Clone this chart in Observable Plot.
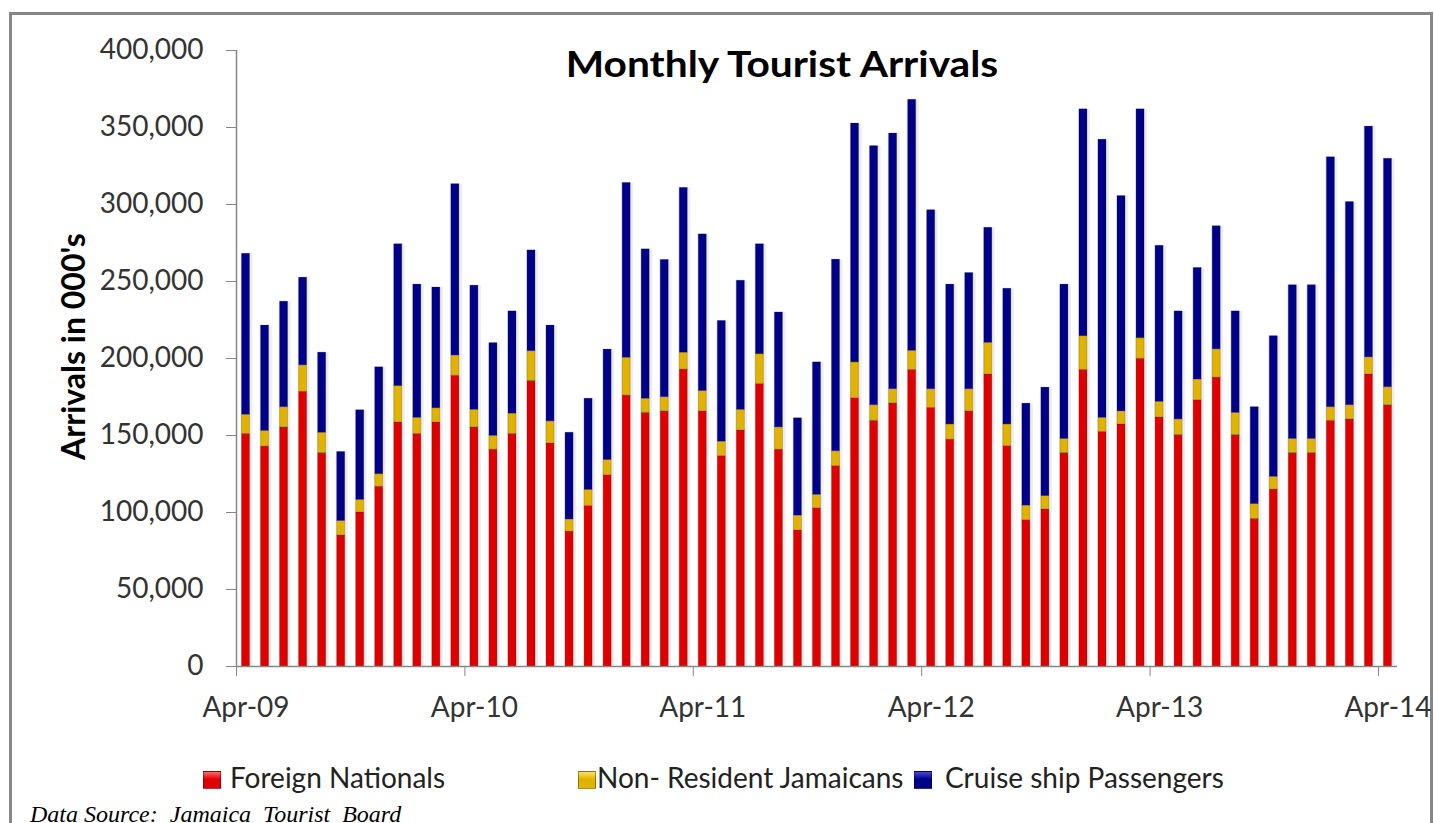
<!DOCTYPE html>
<html>
<head>
<meta charset="utf-8">
<script src="https://cdn.jsdelivr.net/npm/d3@7"></script>
<script src="https://cdn.jsdelivr.net/npm/@observablehq/plot@0.6"></script>
<style>
  body { margin: 0; background: #fff; }
  #wrap { position: relative; width: 1434px; height: 823px; overflow: hidden; font-family: Lato, sans-serif; background: #fff; }
  #frame { position: absolute; left: 9px; top: 12px; width: 1418px; height: 900px; border: 3px solid #878787; }
  #chart { position: absolute; left: 0; top: 0; }
  #title { position: absolute; left: 782px; top: 45px; transform: translateX(-50%) scaleX(1.13); font: bold 36px/36px Lato, sans-serif; color: #000; white-space: nowrap; }
  .lg-text { position: absolute; top: 763px; font: 28px/28px Lato, sans-serif; color: #222; white-space: nowrap; }
  .lg-sw { position: absolute; top: 771px; width: 18px; height: 18px; box-sizing: border-box; }
  #source { position: absolute; left: 30px; top: 802px; font: italic 24px/24px "Liberation Serif", serif; color: #000; white-space: pre; }
</style>
</head>
<body>
<div id="wrap">
  <div id="frame"></div>
  <div id="chart"></div>
  <div id="title"></div>
  <div id="legend"></div>
  <div id="source"></div>
</div>
<script>
// ---- data ----
const chartTitle = "Monthly Tourist Arrivals";
const yLabel = "Arrivals in 000's";
const sourceText = "Data Source:  Jamaica  Tourist  Board";

// months Apr-09 .. Apr-14
const months = d3.utcMonths(new Date(Date.UTC(2009, 3, 1)), new Date(Date.UTC(2014, 4, 1)))
  .map(d => d3.utcFormat("%b-%y")(d));

const series = ["Foreign Nationals", "Non- Resident Jamaicans", "Cruise ship Passengers"];
const seriesColors = ["#E00000", "#E2B200", "#000088"];
const swatchLight = ["#FF6A6A", "#FFE066", "#4A4AD0"];

const foreignNationals = [
  151000, 142800, 155300, 178400, 138600, 85100, 100000, 116700, 158500, 151000, 158500, 188800,
  155300, 140800, 151000, 185400, 144800, 87600, 104200, 124200, 175900, 164700, 165700, 192800,
  165700, 136600, 153300, 183400, 140800, 88300, 102800, 130100, 174200, 159500, 170900, 192600,
  167900, 147300, 165700, 189600, 143100, 95000, 102000, 138600, 192600, 152300, 157200, 199800,
  161700, 150300, 172900, 187600, 150300, 95800, 114900, 138600, 138600, 159500, 160500, 189600,
  169700
];
const nonResidentJamaicans = [
  12500, 10200, 13100, 17200, 13200, 9400, 8200, 8200, 23600, 10500, 9200, 13200,
  11400, 9000, 13200, 19400, 14400, 7900, 10500, 9900, 24600, 9200, 9200, 11000,
  13200, 9400, 13400, 19400, 14500, 9700, 8700, 9700, 23300, 10200, 9200, 12400,
  12200, 9900, 14400, 20600, 14100, 9500, 8700, 9200, 21900, 9200, 8500, 13400,
  10200, 10200, 13500, 18400, 14400, 9700, 8300, 9200, 9200, 8900, 9200, 11200,
  11700
];
const cruisePassengers = [
  104500, 68400, 68500, 56900, 52000, 44800, 58200, 69400, 92100, 86500, 78400, 111200,
  80600, 60200, 66400, 65400, 62200, 56300, 59200, 71700, 113500, 97000, 89100, 107000,
  101700, 78400, 83800, 71400, 74600, 63200, 86000, 124400, 155100, 168200, 166000, 163000,
  116200, 90800, 75400, 74700, 88100, 66200, 70400, 100200, 147300, 180600, 139800, 148600,
  101300, 70100, 72400, 79900, 65900, 62900, 91300, 99800, 99800, 162300, 131900, 149800,
  148300
];
const yTicks = [0, 50000, 100000, 150000, 200000, 250000, 300000, 350000, 400000];
const xTickLabels = ["Apr-09", "Apr-10", "Apr-11", "Apr-12", "Apr-13", "Apr-14"];

// ---- tidy tables ----
const valuesBySeries = [foreignNationals, nonResidentJamaicans, cruisePassengers];
const rows = [];
series.forEach((s, k) => valuesBySeries[k].forEach((v, i) => rows.push({i, month: months[i], series: s, value: v})));
const totals = months.map((m, i) => ({i, month: m, total: foreignNationals[i] + nonResidentJamaicans[i] + cruisePassengers[i]}));
const labelIdx = xTickLabels.map(l => months.indexOf(l));

const axisGray = "#868686";

const chart = Plot.plot({
  width: 1434,
  height: 730,
  marginLeft: 236,
  marginRight: 37,
  marginTop: 50,
  marginBottom: 64,
  style: {fontFamily: "Lato, sans-serif", fontSize: "28px", color: "#333", background: "transparent", overflow: "visible"},
  x: {type: "linear", domain: [0, months.length]},
  y: {domain: [0, 400000]},
  color: {domain: series, range: seriesColors},
  marks: [
    // soft shadow behind each bar
    Plot.rectY(totals, {x1: "i", x2: d => d.i + 1, y: "total", fill: "#000", fillOpacity: 0.07, insetLeft: 3.5, insetRight: 3.5, dx: 1}),
    Plot.rectY(rows, {x1: "i", x2: d => d.i + 1, y: "value", fill: "series", stroke: "#000", strokeOpacity: 0.18, strokeWidth: 1, insetLeft: 5.5, insetRight: 5.5}),
    Plot.ruleX([0], {y1: 0, y2: 400000, stroke: axisGray, strokeWidth: 1.5}),
    Plot.ruleY([0], {stroke: axisGray, strokeWidth: 1.5}),
    Plot.axisY({ticks: yTicks, tickFormat: d3.format(","), tickSize: 10, tickPadding: 23, stroke: axisGray, fill: "#333", label: null}),
    Plot.axisX({ticks: labelIdx, tickFormat: () => "", tickSize: 10, stroke: axisGray, label: null}),
    Plot.axisX({ticks: labelIdx.map(i => i + 0.5), tickFormat: v => months[Math.floor(v)], tickSize: 0, tickPadding: 31, fill: "#333", label: null}),
    Plot.text([yLabel], {frameAnchor: "left", textAnchor: "middle", dx: -162, dy: -12, rotate: -90, fontWeight: "bold", fontSize: 32, fill: "#000"})
  ]
});
document.getElementById("chart").appendChild(chart);

document.getElementById("title").textContent = chartTitle;
document.getElementById("source").textContent = sourceText;

// legend
const legendPos = [{sw: 203, tx: 230}, {sw: 578, tx: 597}, {sw: 914, tx: 945}];
const legend = document.getElementById("legend");
series.forEach((s, k) => {
  const sw = document.createElement("div");
  sw.className = "lg-sw";
  sw.style.left = legendPos[k].sw + "px";
  sw.style.background = `linear-gradient(to bottom, ${swatchLight[k]} 0%, ${seriesColors[k]} 45%, ${seriesColors[k]} 100%)`;
  sw.style.border = "1px solid rgba(0,0,0,0.35)";
  legend.appendChild(sw);
  const t = document.createElement("div");
  t.className = "lg-text";
  t.style.left = legendPos[k].tx + "px";
  t.textContent = s;
  legend.appendChild(t);
});
</script>
</body>
</html>
